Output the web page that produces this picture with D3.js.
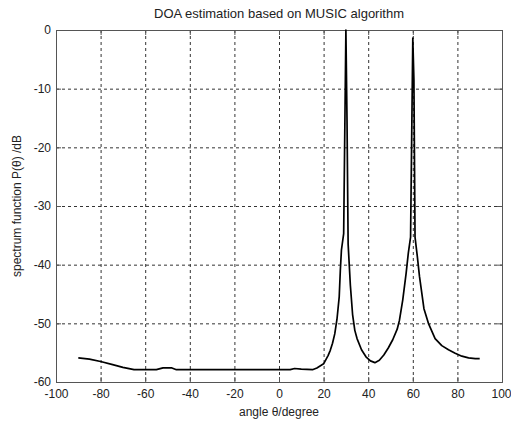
<!DOCTYPE html>
<html>
<head>
<meta charset="utf-8">
<script src="https://cdn.jsdelivr.net/npm/d3@7"></script>
<style>
  body { margin: 0; background: #fff; }
  svg text { font-family: "Liberation Sans", Arial, sans-serif; fill: #222; }
</style>
</head>
<body>
<div id="main"></div>
<script>
// spectrum (angle in degrees, value in dB)
const angles = [-90, -85, -80, -75, -70, -65, -60, -55, -52, -48, -46, -30, -10, 0, 5, 7, 10, 15, 17, 20, 22, 23, 24, 25, 26, 27, 27.5, 28, 29, 30, 30.5, 31, 31.5, 32, 33, 34, 35, 37, 39, 41, 43, 45, 47, 49, 51, 53, 54, 55.5, 57, 58, 59, 60, 60.5, 61, 62, 63, 65, 67, 70, 73, 76, 79, 82, 85, 88, 90];
const power  = [-55.9, -56.1, -56.5, -57.0, -57.5, -57.9, -57.9, -57.9, -57.6, -57.6, -57.9, -57.9, -57.9, -57.9, -57.9, -57.7, -57.8, -57.9, -57.6, -56.9, -55.5, -54.6, -53.4, -51.8, -49.3, -45.5, -41, -37.5, -34.7, 0, -15.4, -36.5, -40, -43.5, -48.5, -51.2, -52.6, -54.5, -55.7, -56.4, -56.7, -56.3, -55.4, -54.2, -52.8, -51, -49.5, -46, -41.5, -38, -35.3, -1.4, -8.5, -35.3, -38.5, -42, -47.5, -50, -52.6, -53.8, -54.5, -55.1, -55.6, -55.9, -56.0, -56.0];
const xTicks = [-100, -80, -60, -40, -20, 0, 20, 40, 60, 80, 100];
const yTicks = [-60, -50, -40, -30, -20, -10, 0];

const W = 511, H = 422;
const margin = { left: 56, right: 9, top: 30, bottom: 40 };
const w = W - margin.left - margin.right;
const h = H - margin.top - margin.bottom;

const svg = d3.select("#main").append("svg")
  .attr("width", W)
  .attr("height", H);

const x = d3.scaleLinear().domain([-100, 100]).range([0, w]);
const y = d3.scaleLinear().domain([-60, 0]).range([h, 0]);

const g = svg.append("g")
  .attr("transform", "translate(" + margin.left + "," + margin.top + ")");

// dashed grid
g.append("g")
  .selectAll("line")
  .data(xTicks.slice(1, -1))
  .join("line")
  .attr("x1", d => x(d) + 0.5).attr("x2", d => x(d) + 0.5)
  .attr("y1", 0).attr("y2", h)
  .attr("stroke", "#333")
  .attr("stroke-width", 1)
  .attr("stroke-dasharray", "3,3");

g.append("g")
  .selectAll("line")
  .data(yTicks.slice(1, -1))
  .join("line")
  .attr("x1", 0).attr("x2", w)
  .attr("y1", d => y(d) + 0.5).attr("y2", d => y(d) + 0.5)
  .attr("stroke", "#333")
  .attr("stroke-width", 1)
  .attr("stroke-dasharray", "3,3");

// axes (ticks inward like matlab), plain hyphen for negatives
const fmt = d => String(d);
const xAxis = d3.axisBottom(x).tickValues(xTicks).tickSize(-5).tickPadding(7).tickFormat(fmt);
const yAxis = d3.axisLeft(y).tickValues(yTicks).tickSize(-5).tickPadding(5).tickFormat(fmt);

const gx = g.append("g")
  .attr("transform", "translate(0," + h + ")")
  .call(xAxis);
g.append("g").call(yAxis);

g.append("g")
  .call(d3.axisTop(x).tickValues(xTicks).tickSize(-5).tickFormat(""));
g.append("g")
  .attr("transform", "translate(" + w + ",0)")
  .call(d3.axisRight(y).tickValues(yTicks).tickSize(-5).tickFormat(""));

g.selectAll(".domain").attr("stroke", "#555");
g.selectAll(".tick line").attr("stroke", "#555");
g.selectAll(".tick text")
  .style("font-size", "12px")
  .attr("fill", "#222");

// last x label sits at the window edge, keep it inside
gx.selectAll(".tick text")
  .filter(d => d === 100)
  .attr("text-anchor", "end")
  .attr("dx", "9");

// spectrum curve
const pts = angles.map((a, i) => [a, power[i]]);
const line = d3.line()
  .x(d => x(d[0]))
  .y(d => y(d[1]));

g.append("path")
  .datum(pts)
  .attr("d", line)
  .attr("fill", "none")
  .attr("stroke", "#000")
  .attr("stroke-width", 1.7)
  .attr("stroke-linejoin", "round");

// title and labels
svg.append("text")
  .attr("x", margin.left + w / 2)
  .attr("y", 18)
  .attr("text-anchor", "middle")
  .style("font-size", "13px")
  .text("DOA estimation based on MUSIC algorithm");

svg.append("text")
  .attr("x", margin.left + w / 2)
  .attr("y", 416)
  .attr("text-anchor", "middle")
  .style("font-size", "12px")
  .text("angle θ/degree");

svg.append("text")
  .attr("transform", "translate(21," + (margin.top + h / 2) + ") rotate(-90)")
  .attr("text-anchor", "middle")
  .style("font-size", "12px")
  .text("spectrum function P(θ) /dB");
</script>
</body>
</html>
